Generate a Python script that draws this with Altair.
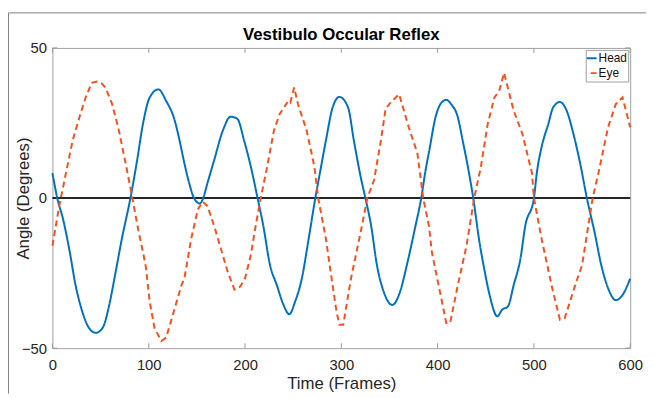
import altair as alt
import pandas as pd

# ---- data ----
head_frames = [0, 5, 11, 18, 24, 31, 38, 45, 52, 59, 65, 72, 81, 88, 94, 101, 110, 118, 127, 132,
               137, 142, 147, 153, 156, 161, 168, 177, 185, 192, 199, 206, 213, 219, 226, 233, 240,
               246, 252, 259, 266, 273, 279, 284, 291, 298, 307, 313, 320, 325, 331, 337, 344, 353,
               361, 368, 377, 383, 387, 392, 397, 404, 409, 414, 421, 426, 432, 437, 443, 449, 454,
               462, 467, 473, 479, 486, 491, 500, 503, 508, 515, 520, 527, 534, 541, 548, 555, 563,
               570, 577, 585, 592, 600]
head_angles = [8.3, 0, -7, -18, -29, -37.8, -43.3, -44.9, -43.3, -35.6, -25.7, -13.7, 0, 12.7, 24.7,
               33.5, 36.2, 32.4, 25.8, 19.2, 11.6, 5, 0, -1.8, -0.5, 5, 12.7, 22.5, 27.1, 26.4, 19.2,
               10.5, 0, -9.3, -22.4, -29, -35.6, -38.7, -34.5, -26.8, -13.7, 0, 10.5, 19.2, 30.2,
               33.7, 30.2, 19.2, 7.2, 0, -9.3, -22.4, -31.2, -35.6, -31.2, -22.4, -9.3, 0, 8.3, 17,
               25.8, 31.8, 32.7, 31.3, 26.9, 19.2, 9.4, 0, -13.7, -24.6, -32.3, -39.4, -37.2, -36.1,
               -29, -20.2, -9.3, 0, 8.3, 17, 24.7, 30.2, 32, 29.1, 21.4, 11.6, 0, -11.4, -22.4, -30,
               -34, -32.3, -26.8]

eye_frames = [0, 7, 14, 21, 28, 35, 41, 46, 51, 55, 62, 69, 76, 83, 89, 94, 97, 101, 106, 113, 118,
              124, 129, 134, 137, 144, 151, 156, 161, 168, 175, 182, 189, 195, 200, 206, 211, 216,
              223, 230, 236, 245, 247, 251, 255, 264, 272, 276, 284, 290, 295, 298, 302, 310, 320,
              327, 334, 341, 346, 351, 355, 360, 370, 379, 385, 391, 394, 401, 409, 413, 421, 430,
              438, 445, 452, 459, 464, 469, 479, 488, 498, 500, 508, 519, 527, 532, 544, 550, 561,
              567, 577, 585, 592, 600]
eye_angles = [-15.9, -2.7, 8.3, 19.2, 26.9, 34, 38.4, 38.8, 38.2, 36.8, 31.3, 22.5, 11.6, 0, -10.4,
              -18, -23, -34.5, -43.3, -47.6, -46.5, -40, -34.5, -29, -26.8, -13.7, -3.8, -1.2, -2.7,
              -9.3, -17, -24.6, -30.5, -29.5, -26.8, -19, -9.3, -0.5, 10.5, 22.5, 28, 32.4, 31.8,
              36.8, 31.3, 22.5, 10.5, 0, -13.6, -27, -37.8, -42.2, -42.2, -26.8, -11.5, 0, 6, 19,
              29.7, 31.8, 33, 34.6, 23.6, 14.9, 0, -9.3, -18, -29, -41.6, -41.6, -29, -15.9, 0, 10.5,
              24.7, 33.5, 35.7, 41.7, 29.1, 21.4, 8.3, 0, -13.6, -30, -40.5, -40, -27.9, -22.4, 0,
              8.3, 23.6, 31.3, 33.5, 23.6]

series_names = ["Head", "Eye"]
series_colors = ["#0072BD", "#F4511E"]
series_dashes = [[1, 0], [6, 4]]
x_ticks = [0, 100, 200, 300, 400, 500, 600]
y_ticks = [-50, 0, 50]
zero_level = [0]
title_text = "Vestibulo Occular Reflex"

W, H = 585, 304
TXT = "#262626"
FONT = "Liberation Sans"

head_df = pd.DataFrame({"frame": head_frames, "angle": head_angles, "series": "Head"})
eye_df = pd.DataFrame({"frame": eye_frames, "angle": eye_angles, "series": "Eye"})
xt_df = pd.DataFrame({"frame": x_ticks})
yt_df = pd.DataFrame({"angle": y_ticks})
zero_df = pd.DataFrame({"angle": zero_level})
one_df = pd.DataFrame({"k": [0]})
title_df = pd.DataFrame({"t": [title_text]})

x_axis = alt.Axis(values=x_ticks, title="Time (Frames)", ticks=False, domain=False, grid=False,
                  labelPadding=10, labelFontSize=15, labelFlush=False, titleFontSize=17,
                  titleFontWeight="normal", titleX=W / 2, titleY=36, titleBaseline="middle",
                  titleAlign="center")
y_axis = alt.Axis(values=y_ticks, title="Angle (Degrees)", ticks=False, domain=False, grid=False,
                  labelPadding=6, labelFontSize=15, labelFlush=False, titleFontSize=17,
                  titleFontWeight="normal", titleX=-29, titleY=H / 2, titleBaseline="middle",
                  titleAlign="center", titleAngle=270)

xs = alt.Scale(domain=[0, 600], nice=False, zero=False)
ys = alt.Scale(domain=[-50, 50], nice=False, zero=False)
xenc = alt.X("frame:Q", scale=xs, axis=x_axis)
yenc = alt.Y("angle:Q", scale=ys, axis=y_axis)

leg = alt.Legend(title=None)
color = alt.Color("series:N", scale=alt.Scale(domain=series_names, range=series_colors), legend=leg)
dash = alt.StrokeDash("series:N", scale=alt.Scale(domain=series_names, range=series_dashes), legend=leg)

zero_line = alt.Chart(zero_df).mark_rule(color="#262626", strokeWidth=2).encode(
    y=yenc, x=alt.value(0), x2=alt.value(W))

head_line = alt.Chart(head_df).mark_line(strokeWidth=2, interpolate="monotone").encode(
    x=xenc, y=yenc, color=color, strokeDash=dash)
eye_line = alt.Chart(eye_df).mark_line(strokeWidth=2, interpolate="linear").encode(
    x=xenc, y=yenc, color=color, strokeDash=dash)

tick_col = "#999999"
xt_bottom = alt.Chart(xt_df).mark_rule(color=tick_col).encode(x=xenc, y=alt.value(H), y2=alt.value(H - 5))
xt_top = alt.Chart(xt_df).mark_rule(color=tick_col).encode(x=xenc, y=alt.value(0), y2=alt.value(5))
yt_left = alt.Chart(yt_df).mark_rule(color=tick_col).encode(y=yenc, x=alt.value(0), x2=alt.value(5))
yt_right = alt.Chart(yt_df).mark_rule(color=tick_col).encode(y=yenc, x=alt.value(W), x2=alt.value(W - 5))

frame_col = "#808080"
border_top = alt.Chart(one_df).mark_rule(color=frame_col, strokeWidth=1).encode(
    x=alt.value(-44.5), x2=alt.value(W + 16), y=alt.value(-35.5))
border_left = alt.Chart(one_df).mark_rule(color=frame_col, strokeWidth=1).encode(
    x=alt.value(-44.5), y=alt.value(-35.5), y2=alt.value(H + 46))

title_mark = alt.Chart(title_df).mark_text(
    fontSize=17, fontWeight="bold", color="black", font=FONT, baseline="middle", align="center"
).encode(text="t:N", x=alt.value(W / 2), y=alt.value(-13))

chart = alt.layer(
    border_top, border_left, xt_bottom, xt_top, yt_left, yt_right, zero_line, head_line, eye_line,
    title_mark
).properties(
    width=W, height=H,
    autosize="none",
    padding={"left": 45, "top": 38, "right": 16, "bottom": 46},
).configure(font=FONT).configure_view(
    stroke="#a0a0a0", strokeWidth=1
).configure_axis(
    labelFont=FONT, titleFont=FONT, labelColor=TXT, titleColor=TXT
).configure_legend(
    orient="top-right", offset=2, padding=1, strokeColor="#a0a0a0", fillColor="white",
    symbolType="stroke", symbolSize=256, symbolStrokeWidth=2, symbolOffset=-7,
    labelFontSize=12, labelColor="#111111", labelFont=FONT, labelOffset=1, rowPadding=0,
    clipHeight=15, cornerRadius=0
)

chart.save("out.html", embed_options={"renderer": "svg", "actions": False})
